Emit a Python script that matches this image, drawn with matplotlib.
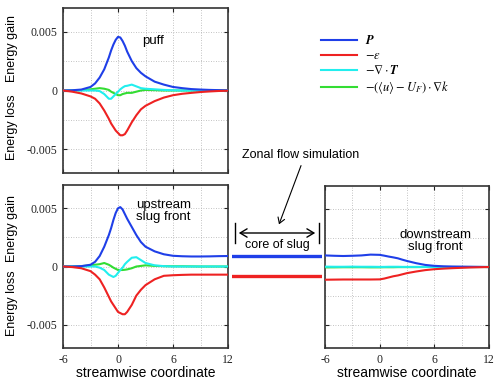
import numpy as np
import matplotlib
matplotlib.use("Agg")
import matplotlib.pyplot as plt
from matplotlib.ticker import FixedLocator, FixedFormatter, NullFormatter

plt.rcParams['axes.unicode_minus'] = False
plt.rcParams['mathtext.fontset'] = 'stix'
SANS = 'Liberation Sans'
SERIF = 'Liberation Serif'

# ---------------- data ----------------
xs = [-6, -5, -4, -3, -2.5, -2, -1.5, -1, -0.75, -0.5, -0.25, 0, 0.25, 0.5,
      0.75, 1, 1.5, 2, 2.5, 3, 4, 5, 6, 7, 8, 9, 10, 11, 12]

puff_P = [0, 0.00002, 0.00008, 0.0003, 0.0006, 0.0011, 0.0018, 0.0028, 0.0034,
          0.0039, 0.0043, 0.00455, 0.0045, 0.0042, 0.0038, 0.0033, 0.0025,
          0.0019, 0.0015, 0.0012, 0.00075, 0.0005, 0.0003, 0.0002, 0.00012,
          0.00008, 0.00005, 0.00003, 0.00001]
puff_eps = [0, -0.0001, -0.00025, -0.0005, -0.0007, -0.0011, -0.0017, -0.0024,
            -0.0028, -0.0031, -0.0034, -0.0036, -0.0038, -0.0038, -0.0037,
            -0.0034, -0.0027, -0.0021, -0.0016, -0.0013, -0.0009, -0.0006,
            -0.0004, -0.00028, -0.0002, -0.00013, -0.00008, -0.00004, -0.00002]
puff_divT = [0, 0, 0, 0, 0, -0.00005, -0.0003, -0.0007, -0.0007, -0.0005,
             -0.0003, -0.0001, 0.0001, 0.00025, 0.00037, 0.0004, 0.0005,
             0.00035, 0.0002, 0.00015, 0.0001, 0.00005, 0.00002, 0, 0, 0, 0,
             0, 0]
puff_adv = [0, 0, 0.00003, 0.0001, 0.00015, 0.0002, 0.00015, 0.00005, -0.0001,
            -0.0002, -0.0003, -0.0004, -0.0004, -0.0003, -0.00025, -0.0002,
            -0.0002, -0.0001, 0, 0.00005, 0.00003, 0, 0, 0, 0, 0, 0, 0, 0]

up_P = [0, 0, 0.00003, 0.00015, 0.0004, 0.0009, 0.0017, 0.0027, 0.0033,
        0.0040, 0.0046, 0.0050, 0.0051, 0.0049, 0.0045, 0.0041, 0.0034,
        0.0027, 0.0021, 0.0017, 0.0013, 0.00105, 0.00092, 0.00088, 0.00086,
        0.00086, 0.00087, 0.00089, 0.0009]
up_eps = [0, -0.00005, -0.00015, -0.0004, -0.0007, -0.0011, -0.0018, -0.0026,
          -0.0030, -0.0033, -0.0036, -0.0039, -0.0040, -0.0041, -0.0041,
          -0.0039, -0.0033, -0.0025, -0.002, -0.0016, -0.0011, -0.0008,
          -0.00075, -0.00072, -0.0007, -0.0007, -0.0007, -0.0007, -0.0007]
up_divT = [0, 0, 0, 0, 0, -0.0001, -0.0003, -0.0007, -0.0008, -0.0009,
           -0.0008, -0.00055, -0.0003, -0.0001, 0.0002, 0.0004, 0.00075,
           0.0008, 0.00055, 0.0003, 0.0001, 0.00003, 0, 0, 0, 0, 0, 0, 0]
up_adv = [0, 0, 0.00003, 0.0001, 0.00015, 0.0002, 0.0003, 0.00015, 0.00003,
          -0.0001, -0.0002, -0.0003, -0.0003, -0.0003, -0.00028, -0.00025,
          -0.00015, 0, 0.00005, 0.0001, 0.00005, 0.00003, 0.00002, 0.00002,
          0.00001, 0, 0, 0, 0]

xs_down = [-6, -5, -4, -3, -2, -1, 0, 0.5, 1, 1.5, 2, 2.5, 3, 4, 5, 6, 7, 8,
           10, 12]
down_P = [0.001, 0.00097, 0.00095, 0.00097, 0.001, 0.00107, 0.00105, 0.00098,
          0.0009, 0.00083, 0.00075, 0.00063, 0.00052, 0.00033, 0.00018,
          0.0001, 0.00006, 0.00004, 0.00002, 0]
down_eps = [-0.0011, -0.00109, -0.00108, -0.00108, -0.00108, -0.00108,
            -0.00107, -0.001, -0.0009, -0.0008, -0.00073, -0.00063, -0.00053,
            -0.00039, -0.00027, -0.00019, -0.00014, -0.0001, -0.00004, 0]
down_divT = [0.00003, 0.00002, 0.00002, 0.00003, 0.00002, 0.00002, 0.00001,
             0.00001, 0.00002, 0.00002, 0.00002, 0.00001, 0.00001, 0.00001,
             0.00001, 0, 0, 0, 0, 0]
down_adv = [-0.00003, -0.00003, -0.00002, -0.00002, -0.00002, -0.00003,
            -0.00003, -0.00002, -0.00002, -0.00002, -0.00001, -0.00001,
            -0.00001, -0.00001, 0, 0, 0, 0, 0, 0]

core_P = 0.00092
core_eps = -0.00083

legend_labels = [r'$\boldsymbol{P}$', r'$-\epsilon$',
                 r'$-\nabla\cdot\boldsymbol{T}$',
                 r'$-(\langle u\rangle-U_F)\cdot\nabla k$']
colors = ['#1f3fe8', '#ee2222', '#22eeee', '#33dd33']
zorders = [4, 4, 3.5, 3]

xtick_major = [-6, 0, 6, 12]
xtick_labels = ['-6', '0', '6', '12']
xtick_minor = [-3, 3, 9]
ytick_major = [-0.005, 0, 0.005]
ytick_labels = ['-0.005', '0', '0.005']
ytick_minor = [-0.0025, 0.0025]

# ---------------- figure ----------------
W, H = 500, 386
fig = plt.figure(figsize=(5.0, 3.86), dpi=100)


def rect(x0, y0, x1, y1):
    return [x0 / W, 1 - y1 / H, (x1 - x0) / W, (y1 - y0) / H]


def fp(x, y):
    return (x / W, 1 - y / H)


def style(ax, xlabels=True, ylabels=True):
    ax.set_xlim(-6, 12)
    ax.set_ylim(-0.007, 0.007)
    ax.xaxis.set_major_locator(FixedLocator(xtick_major))
    ax.xaxis.set_minor_locator(FixedLocator(xtick_minor))
    ax.yaxis.set_major_locator(FixedLocator(ytick_major))
    ax.yaxis.set_minor_locator(FixedLocator(ytick_minor))
    if xlabels:
        ax.xaxis.set_major_formatter(FixedFormatter(xtick_labels))
    else:
        ax.xaxis.set_major_formatter(NullFormatter())
    if ylabels:
        ax.yaxis.set_major_formatter(FixedFormatter(ytick_labels))
    else:
        ax.yaxis.set_major_formatter(NullFormatter())
    ax.tick_params(which='major', direction='in', length=3, width=0.8,
                   top=True, right=True, labelsize=8.5, pad=4,
                   colors='#222222')
    ax.tick_params(which='minor', length=0)
    for lab in ax.get_xticklabels() + ax.get_yticklabels():
        lab.set_fontfamily(SERIF)
    ax.grid(True, which='both', linestyle=(0, (1, 2)), color='#b0b0b0',
            linewidth=0.6)
    for s in ax.spines.values():
        s.set_linewidth(1.2)
        s.set_color('#333333')


def draw(ax, x, series):
    lines = []
    for ys, c, z in zip(series, colors, zorders):
        ln, = ax.plot(x, ys, color=c, lw=1.5, solid_joinstyle='round',
                      zorder=z)
        lines.append(ln)
    return lines


ax1 = fig.add_axes(rect(63, 8, 228, 173))
ax2 = fig.add_axes(rect(63, 185, 228, 348))
ax3 = fig.add_axes(rect(325, 186, 489, 348))
axc = fig.add_axes(rect(232, 185, 322, 348))

handles = draw(ax1, xs, [puff_P, puff_eps, puff_divT, puff_adv])
draw(ax2, xs, [up_P, up_eps, up_divT, up_adv])
draw(ax3, xs_down, [down_P, down_eps, down_divT, down_adv])
style(ax1, xlabels=False)
style(ax2)
style(ax3, ylabels=False)

ax2.set_xlabel('streamwise coordinate', fontfamily=SANS, fontsize=10,
               labelpad=0)
ax3.set_xlabel('streamwise coordinate', fontfamily=SANS, fontsize=10,
               labelpad=0)

# core of slug (zonal flow values)
axc.set_xlim(0, 1)
axc.set_ylim(-0.007, 0.007)
axc.axis('off')
axc.axhline(core_P, color=colors[0], lw=2.4)
axc.axhline(core_eps, color=colors[1], lw=2.4)

# y labels
for y in (48, 229):
    fig.text(*fp(12, y), 'Energy gain', rotation=90, ha='center',
             va='center', fontfamily=SANS, fontsize=9)
for y in (127, 303):
    fig.text(*fp(12, y), 'Energy loss', rotation=90, ha='center',
             va='center', fontfamily=SANS, fontsize=9)

# panel annotations
fig.text(*fp(142, 41), 'puff', ha='left', va='center', fontfamily=SANS,
         fontsize=9.5)
fig.text(*fp(136, 199), 'upstream\nslug front', ha='left', va='top',
         fontfamily=SANS, fontsize=9.5, linespacing=1.05)
fig.text(*fp(435, 229), 'downstream\nslug front', ha='center', va='top',
         fontfamily=SANS, fontsize=9.5, linespacing=1.05)
fig.text(*fp(301, 155), 'Zonal flow simulation', ha='center', va='center',
         fontfamily=SANS, fontsize=9)
fig.text(*fp(277, 245), 'core of slug', ha='center', va='center',
         fontfamily=SANS, fontsize=9)

# arrows
fig.add_artist(matplotlib.patches.FancyArrowPatch(
    fp(302, 163), fp(278, 227), transform=fig.transFigure,
    arrowstyle='->,head_length=4,head_width=2.5', color='black', lw=0.8))
fig.add_artist(matplotlib.patches.FancyArrowPatch(
    fp(236, 233), fp(318, 233), transform=fig.transFigure,
    arrowstyle='<->,head_length=5,head_width=3', color='black', lw=1.0))
for x in (235, 319):
    fig.add_artist(matplotlib.lines.Line2D(
        [fp(x, 223)[0], fp(x, 243)[0]], [fp(x, 223)[1], fp(x, 243)[1]],
        transform=fig.transFigure, color='black', lw=1.0))

# legend
fig.legend(handles, legend_labels, loc='upper left',
           bbox_to_anchor=fp(316, 29), frameon=False, fontsize=9,
           handlelength=2.9, handletextpad=0.6, labelspacing=0.17,
           borderaxespad=0)

fig.savefig('out.png', dpi=100)
